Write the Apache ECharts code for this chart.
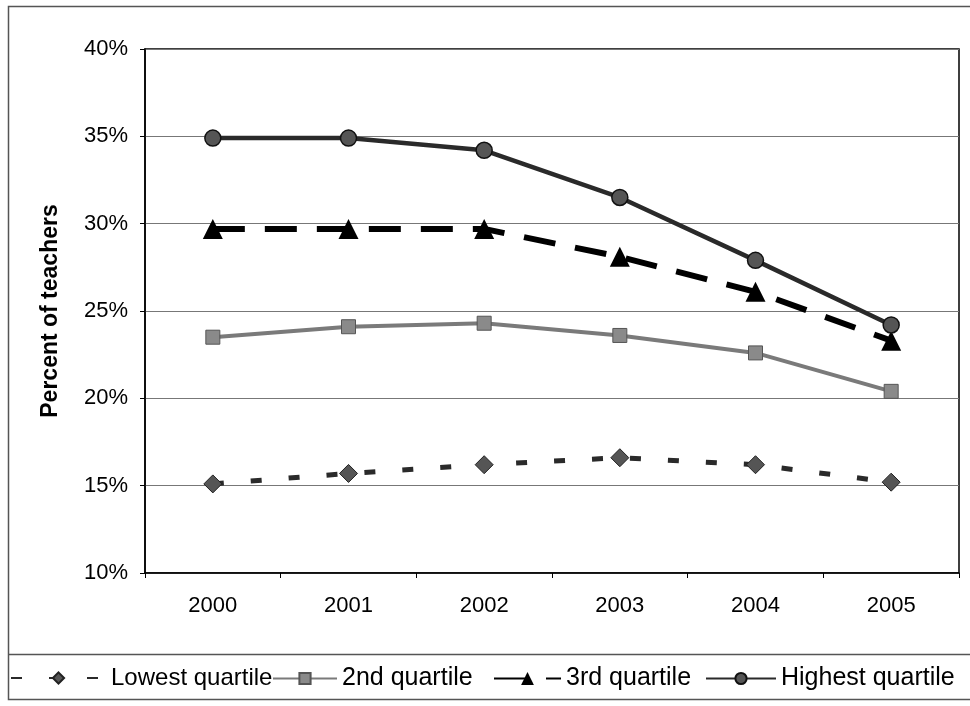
<!DOCTYPE html>
<html>
<head>
<meta charset="utf-8">
<script src="https://cdn.jsdelivr.net/npm/echarts@6/dist/echarts.min.js"></script>
<style>
html,body{margin:0;padding:0;background:#fff;}
#chart{width:970px;height:706px;}
</style>
</head>
<body>
<div id="chart"></div>
<script>
const years = ['2000','2001','2002','2003','2004','2005'];
const lowest = [15.1, 15.7, 16.2, 16.6, 16.2, 15.2];
const second = [23.5, 24.1, 24.3, 23.6, 22.6, 20.4];
const third = [29.7, 29.7, 29.7, 28.1, 26.1, 23.3];
const highest = [34.9, 34.9, 34.2, 31.5, 27.9, 24.2];
const seriesNames = ['Lowest quartile', '2nd quartile', '3rd quartile', 'Highest quartile'];

const chart = echarts.init(document.getElementById('chart'));
const font = 'Arial, "Liberation Sans", sans-serif';
const legendText = {fontFamily: font, fontSize: 25, color: '#000'};
chart.setOption({
  animation: false,
  backgroundColor: '#fff',
  graphic: [
    {type: 'rect', shape: {x: 8.5, y: 6.5, width: 1000, height: 693}, style: {fill: 'none', stroke: '#555', lineWidth: 1.5}, silent: true},
    {type: 'line', shape: {x1: 8, y1: 654.5, x2: 970, y2: 654.5}, style: {stroke: '#555', lineWidth: 1.5}, silent: true}
  ],
  grid: {left: 145, right: 11, top: 49, bottom: 133, show: true, borderColor: '#000', borderWidth: 1.5, backgroundColor: 'transparent'},
  legend: [
    {data: [seriesNames[0]], left: 10, top: 666, padding: 0, itemWidth: 95, itemHeight: 14, textStyle: Object.assign({}, legendText, {fontSize: 24})},
    {data: [seriesNames[1]], left: 272, top: 666, padding: 0, itemWidth: 64, itemHeight: 14, textStyle: legendText},
    {data: [seriesNames[2]], left: 493, top: 666, padding: 0, itemWidth: 67, itemHeight: 16, textStyle: legendText},
    {data: [seriesNames[3]], left: 705, top: 666, padding: 0, itemWidth: 70, itemHeight: 14, textStyle: legendText}
  ],
  xAxis: {
    type: 'category',
    data: years,
    boundaryGap: true,
    axisLine: {lineStyle: {color: '#000', width: 1.5}},
    axisTick: {show: true, inside: false, length: 5, lineStyle: {color: '#000'}},
    axisLabel: {fontFamily: font, fontSize: 22, color: '#000', margin: 22},
    splitLine: {show: false}
  },
  yAxis: {
    type: 'value',
    min: 10, max: 40, interval: 5,
    name: 'Percent of teachers',
    nameLocation: 'middle',
    nameGap: 83,
    nameTextStyle: {fontFamily: font, fontSize: 23, fontWeight: 'bold', color: '#000'},
    axisLine: {show: true, lineStyle: {color: '#000', width: 1.5}},
    axisTick: {show: true, inside: false, length: 5, lineStyle: {color: '#000'}},
    axisLabel: {fontFamily: font, fontSize: 22, color: '#000', margin: 17, formatter: '{value}%'},
    splitLine: {show: true, lineStyle: {color: '#777', width: 1}}
  },
  series: [
    {
      name: seriesNames[0], type: 'line', data: lowest,
      symbol: 'diamond', symbolSize: 18,
      itemStyle: {color: '#555', borderColor: '#222', borderWidth: 1},
      lineStyle: {color: '#2a2a2a', width: 5, type: [11, 27]}
    },
    {
      name: seriesNames[1], type: 'line', data: second,
      symbol: 'rect', symbolSize: 14,
      itemStyle: {color: '#8a8a8a', borderColor: '#555', borderWidth: 1},
      lineStyle: {color: '#7a7a7a', width: 4}
    },
    {
      name: seriesNames[2], type: 'line', data: third,
      symbol: 'triangle', symbolSize: 20,
      itemStyle: {color: '#000', borderColor: '#000', borderWidth: 0},
      lineStyle: {color: '#000', width: 6, type: [32, 20]}
    },
    {
      name: seriesNames[3], type: 'line', data: highest,
      symbol: 'circle', symbolSize: 16,
      itemStyle: {color: '#555', borderColor: '#111', borderWidth: 1.5},
      lineStyle: {color: '#2a2a2a', width: 4.5}
    }
  ]
});
</script>
</body>
</html>
